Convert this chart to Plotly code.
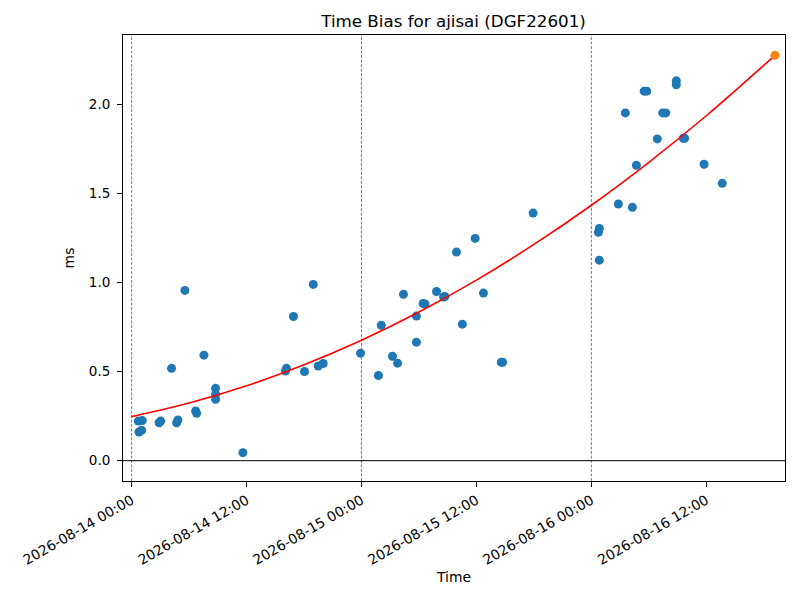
import plotly.graph_objects as go

# Observations (time, time bias in ms)
obs_time = [
    "2026-08-14 00:42", "2026-08-14 01:07", "2026-08-14 00:46", "2026-08-14 01:03",
    "2026-08-14 02:52", "2026-08-14 03:02", "2026-08-14 04:10", "2026-08-14 05:34",
    "2026-08-14 04:42", "2026-08-14 04:50", "2026-08-14 06:41", "2026-08-14 06:47",
    "2026-08-14 07:33", "2026-08-14 08:46", "2026-08-14 08:46", "2026-08-14 08:46",
    "2026-08-14 11:37", "2026-08-14 16:04", "2026-08-14 16:10", "2026-08-14 16:54",
    "2026-08-14 18:03", "2026-08-14 18:58", "2026-08-14 19:29", "2026-08-14 20:00",
    "2026-08-14 23:54", "2026-08-15 01:46", "2026-08-15 02:04", "2026-08-15 03:14",
    "2026-08-15 03:46", "2026-08-15 04:23", "2026-08-15 05:44", "2026-08-15 05:44",
    "2026-08-15 06:26", "2026-08-15 06:38", "2026-08-15 07:50", "2026-08-15 08:34",
    "2026-08-15 08:42", "2026-08-15 09:55", "2026-08-15 10:32", "2026-08-15 11:52",
    "2026-08-15 12:44", "2026-08-15 14:36", "2026-08-15 14:44", "2026-08-15 17:55",
    "2026-08-16 00:50", "2026-08-16 00:50", "2026-08-16 00:44", "2026-08-16 02:49",
    "2026-08-16 04:17", "2026-08-16 03:33", "2026-08-16 04:42", "2026-08-16 05:31",
    "2026-08-16 05:47", "2026-08-16 06:53", "2026-08-16 07:27", "2026-08-16 07:46",
    "2026-08-16 08:52", "2026-08-16 08:52", "2026-08-16 09:36", "2026-08-16 09:44",
    "2026-08-16 11:46", "2026-08-16 13:40",
]
obs_ms = [
    0.222, 0.225, 0.161, 0.170,
    0.213, 0.222, 0.518, 0.955,
    0.213, 0.228, 0.279, 0.266,
    0.592, 0.406, 0.372, 0.344,
    0.045, 0.503, 0.518, 0.809,
    0.500, 0.989, 0.531, 0.545,
    0.603, 0.478, 0.760, 0.586,
    0.547, 0.933, 0.811, 0.665,
    0.882, 0.879, 0.949, 0.918,
    0.921, 1.170, 0.766, 1.247,
    0.940, 0.552, 0.552, 1.389,
    1.125, 1.303, 1.281, 1.440,
    1.421, 1.951, 1.657, 2.073,
    2.073, 1.805, 1.951, 1.951,
    2.131, 2.109, 1.809, 1.809,
    1.663, 1.556,
]

# Fitted trend curve
fit_time = [
    "2026-08-14 00:00", "2026-08-14 06:00", "2026-08-14 12:00", "2026-08-14 18:00",
    "2026-08-15 00:00", "2026-08-15 06:00", "2026-08-15 12:00", "2026-08-15 18:00",
    "2026-08-16 00:00", "2026-08-16 06:00", "2026-08-16 12:00", "2026-08-16 19:10",
]
fit_ms = [0.247, 0.323, 0.420, 0.538, 0.676, 0.834, 1.013, 1.213, 1.433, 1.674, 1.935, 2.274]

# Predicted end point
pred_time = ["2026-08-16 19:10"]
pred_ms = [2.274]

day_marks = ["2026-08-14 00:00", "2026-08-15 00:00", "2026-08-16 00:00"]
x_ticks = ["2026-08-14 00:00", "2026-08-14 12:00", "2026-08-15 00:00",
           "2026-08-15 12:00", "2026-08-16 00:00", "2026-08-16 12:00"]
y_ticks = [0.0, 0.5, 1.0, 1.5, 2.0]

FONT = "DejaVu Sans"

fig = go.Figure()
fig.add_trace(go.Scatter(x=obs_time, y=obs_ms, mode="markers",
                         marker=dict(color="#1f77b4", size=9), showlegend=False))
fig.add_trace(go.Scatter(x=fit_time, y=fit_ms, mode="lines", line_shape="spline",
                         line=dict(color="red", width=1.6), showlegend=False))
fig.add_trace(go.Scatter(x=pred_time, y=pred_ms, mode="markers",
                         marker=dict(color="#ff7f0e", size=9), showlegend=False))

for d in day_marks:
    fig.add_shape(type="line", xref="x", yref="paper", x0=d, x1=d, y0=0, y1=1,
                  line=dict(color="#2a80c0", width=0.9, dash="3px,1.5px"), layer="below")
fig.add_shape(type="line", xref="paper", yref="y", x0=0, x1=1, y0=0, y1=0,
              line=dict(color="black", width=1), layer="below")

fig.update_layout(
    width=792, height=592,
    margin=dict(l=115, r=15, t=27, b=119, autoexpand=False),
    plot_bgcolor="white", paper_bgcolor="white",
    font=dict(family=FONT, size=13.5, color="black"),
    title=dict(text="Time Bias for ajisai (DGF22601)", x=0.5625, xanchor="center",
               y=0.978, yanchor="middle", font=dict(size=16.7)),
)
fig.update_xaxes(
    type="date", range=["2026-08-13 23:06", "2026-08-16 20:13"], automargin=False,
    tickvals=x_ticks, ticktext=[t for t in x_ticks], tickangle=-30,
    tickfont=dict(size=13.9),
    showgrid=False, zeroline=False, showline=True, linecolor="black", linewidth=1,
    mirror=True, ticks="outside", ticklen=5, tickcolor="black",
    title=dict(text="Time", standoff=5, font=dict(size=13.9)),
)
fig.update_yaxes(
    range=[-0.114, 2.388], tickvals=y_ticks, ticktext=[f"{v:.1f}" for v in y_ticks],
    automargin=False, tickfont=dict(size=13.5), ticklabelstandoff=4,
    showgrid=False, zeroline=False, showline=True, linecolor="black", linewidth=1,
    mirror=True, ticks="outside", ticklen=5, tickcolor="black",
    title=dict(text="ms", standoff=10, font=dict(size=13.9)),
)

fig.write_html("out.html")
